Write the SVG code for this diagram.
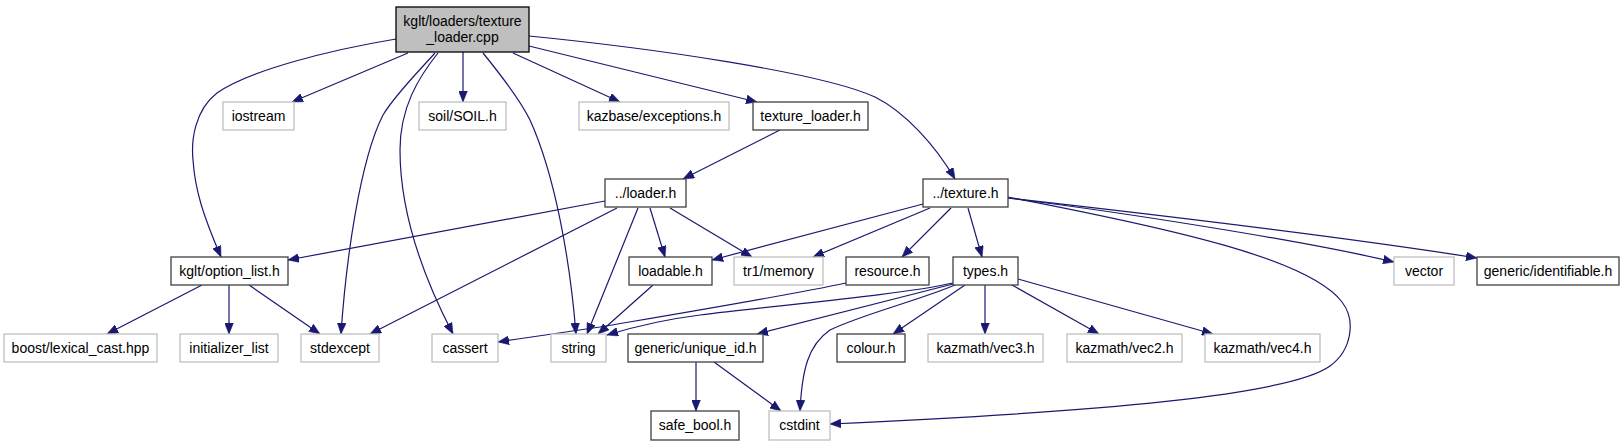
<svg xmlns="http://www.w3.org/2000/svg" width="1624" height="445" viewBox="0 0 1624 445">
<defs>
<marker id="ah" viewBox="0 0 10 8" refX="10" refY="4" markerUnits="userSpaceOnUse" markerWidth="11" markerHeight="9" orient="auto">
<path d="M0,0 L10,4 L0,8 z" fill="#191970" stroke="#191970" stroke-width="0.5"/>
</marker>
</defs>
<style>
.n rect{fill:#ffffff;stroke:#404040;stroke-width:1.3}
.n.ext rect{stroke:#bfbfbf}
.n.root rect{fill:#bfbfbf;stroke:#000000}
.n text{font-family:"Liberation Sans",Arial,sans-serif;font-size:14px;fill:#000000;text-anchor:middle}
#edges path{fill:none;stroke:#191970;stroke-width:1.2;marker-end:url(#ah)}
</style>
<rect width="1624" height="445" fill="#ffffff"/>
<g id="edges">
<path d="M396,39 C330,50 250,70 217,93 C195,110 191,140 193,160 C195,190 203,215 221,257"/>
<path d="M408,53 L292,102"/>
<path d="M435,53 C418,72 395,95 383,115 C360,160 346,260 341,334"/>
<path d="M438,53 C418,78 400,108 400,150 C400,220 430,290 453,334"/>
<path d="M463,52 L463,102"/>
<path d="M483,53 C505,80 520,100 530,120 C555,175 570,260 576,334"/>
<path d="M513,53 L620,102"/>
<path d="M529,46 L757,102"/>
<path d="M529,36 C650,48 820,72 875,97 C905,112 935,145 955,179"/>
<path d="M780,130 L683,179"/>
<path d="M605,201 L288,260"/>
<path d="M617,208 L370,334"/>
<path d="M638,208 L587,334"/>
<path d="M650,208 L665,257"/>
<path d="M670,208 L752,257"/>
<path d="M923,204 L712,260"/>
<path d="M930,208 L813,257"/>
<path d="M951,208 L902,257"/>
<path d="M968,208 L982,257"/>
<path d="M1008,197 C1180,230 1310,260 1342,302 C1356,320 1352,350 1330,366 C1290,395 1100,412 830,424"/>
<path d="M1008,198 C1120,212 1300,240 1394,262"/>
<path d="M1008,198 C1150,214 1350,238 1477,258"/>
<path d="M202,285 L107,334"/>
<path d="M229,285 L229,334"/>
<path d="M249,285 L320,334"/>
<path d="M653,285 L598,334"/>
<path d="M846,283 C790,295 700,310 600,327 C560,333 530,337 498,342"/>
<path d="M953,283 C900,295 780,305 700,315 C660,320 630,328 607,335"/>
<path d="M953,284 L757,334"/>
<path d="M955,285 C920,300 860,315 830,330 C808,345 802,370 800,411"/>
<path d="M965,285 L893,334"/>
<path d="M985,285 L985,334"/>
<path d="M1012,285 L1099,334"/>
<path d="M1018,279 L1213,334"/>
<path d="M696,362 L696,411"/>
<path d="M714,362 L781,411"/>
</g>
<g id="n_cpp" class="n root"><rect x="396" y="7" width="133" height="45"/><text x="462.5" y="25.5">kglt/loaders/texture</text><text x="462.5" y="41.5">_loader.cpp</text></g>
<g id="n_iostream" class="n ext"><rect x="223" y="102" width="71" height="28"/><text x="258.5" y="120.5">iostream</text></g>
<g id="n_soil" class="n ext"><rect x="419" y="102" width="87" height="28"/><text x="462.5" y="120.5">soil/SOIL.h</text></g>
<g id="n_kazbase" class="n ext"><rect x="579" y="102" width="150" height="28"/><text x="654" y="120.5">kazbase/exceptions.h</text></g>
<g id="n_texture_loader_h" class="n"><rect x="753" y="102" width="115" height="28"/><text x="810.5" y="120.5">texture_loader.h</text></g>
<g id="n_loader_h" class="n"><rect x="605" y="179" width="81" height="28"/><text x="645.5" y="197.5">../loader.h</text></g>
<g id="n_texture_h" class="n"><rect x="923" y="179" width="85" height="28"/><text x="965.5" y="197.5">../texture.h</text></g>
<g id="n_option_list" class="n"><rect x="171" y="257" width="117" height="28"/><text x="229.5" y="275.5">kglt/option_list.h</text></g>
<g id="n_loadable" class="n"><rect x="629" y="257" width="83" height="28"/><text x="670.5" y="275.5">loadable.h</text></g>
<g id="n_tr1memory" class="n ext"><rect x="734" y="257" width="89" height="28"/><text x="778.5" y="275.5">tr1/memory</text></g>
<g id="n_resource" class="n"><rect x="846" y="257" width="83" height="28"/><text x="887.5" y="275.5">resource.h</text></g>
<g id="n_types" class="n"><rect x="953" y="257" width="65" height="28"/><text x="985.5" y="275.5">types.h</text></g>
<g id="n_vector" class="n ext"><rect x="1394" y="257" width="60" height="28"/><text x="1424" y="275.5">vector</text></g>
<g id="n_identifiable" class="n"><rect x="1477" y="257" width="142" height="28"/><text x="1548" y="275.5">generic/identifiable.h</text></g>
<g id="n_boost" class="n ext"><rect x="4" y="334" width="153" height="28"/><text x="80.5" y="352.5">boost/lexical_cast.hpp</text></g>
<g id="n_initializer_list" class="n ext"><rect x="180" y="334" width="98" height="28"/><text x="229" y="352.5">initializer_list</text></g>
<g id="n_stdexcept" class="n ext"><rect x="301" y="334" width="78" height="28"/><text x="340" y="352.5">stdexcept</text></g>
<g id="n_cassert" class="n ext"><rect x="432" y="334" width="66" height="28"/><text x="465" y="352.5">cassert</text></g>
<g id="n_string" class="n ext"><rect x="551" y="334" width="55" height="28"/><text x="578.5" y="352.5">string</text></g>
<g id="n_unique_id" class="n"><rect x="628" y="334" width="135" height="28"/><text x="695.5" y="352.5">generic/unique_id.h</text></g>
<g id="n_colour" class="n"><rect x="837" y="334" width="68" height="28"/><text x="871" y="352.5">colour.h</text></g>
<g id="n_vec3" class="n ext"><rect x="928" y="334" width="115" height="28"/><text x="985.5" y="352.5">kazmath/vec3.h</text></g>
<g id="n_vec2" class="n ext"><rect x="1067" y="334" width="115" height="28"/><text x="1124.5" y="352.5">kazmath/vec2.h</text></g>
<g id="n_vec4" class="n ext"><rect x="1205" y="334" width="115" height="28"/><text x="1262.5" y="352.5">kazmath/vec4.h</text></g>
<g id="n_safe_bool" class="n"><rect x="651" y="411" width="88" height="29"/><text x="695" y="430">safe_bool.h</text></g>
<g id="n_cstdint" class="n ext"><rect x="769" y="411" width="61" height="29"/><text x="799.5" y="430">cstdint</text></g>
</svg>
